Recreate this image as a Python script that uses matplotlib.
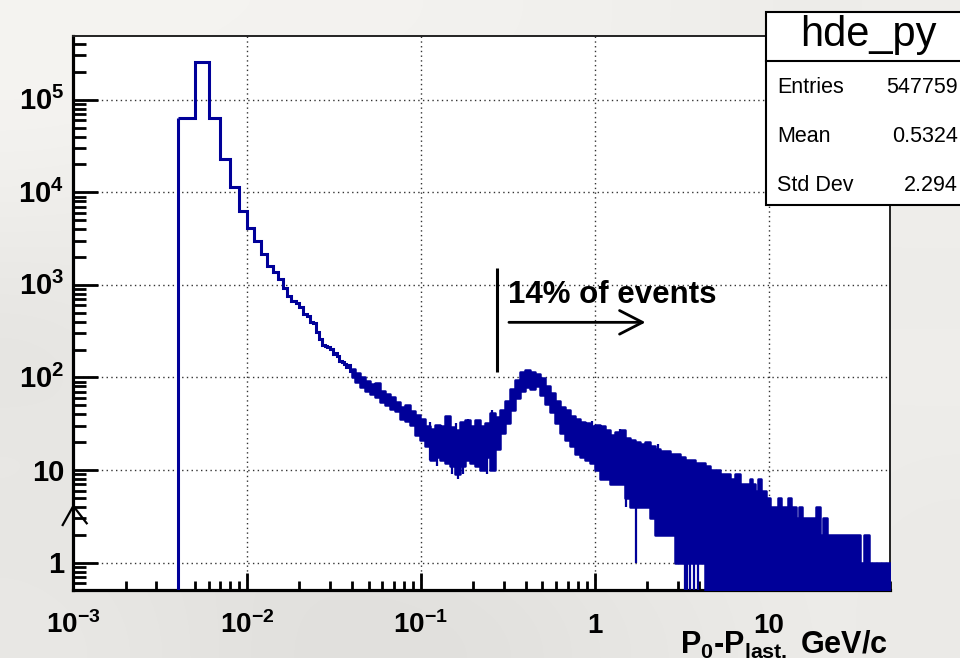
import numpy as np
import matplotlib
matplotlib.use("Agg")
import matplotlib.pyplot as plt
import matplotlib.transforms as mtransforms
from matplotlib.lines import Line2D
from matplotlib.patches import Rectangle
from matplotlib.ticker import LogLocator, NullFormatter

plt.rcParams['font.family'] = ['Liberation Sans', 'DejaVu Sans']
plt.rcParams['mathtext.fontset'] = 'custom'
plt.rcParams['mathtext.rm'] = 'Liberation Sans:bold'
plt.rcParams['mathtext.it'] = 'Liberation Sans:bold'
plt.rcParams['mathtext.bf'] = 'Liberation Sans:bold'
plt.rcParams['mathtext.sf'] = 'Liberation Sans:bold'

HIST_COLOR = '#000099'

# ---- histogram hde_py : P0 - Plast [GeV/c], 1 MeV/c bins ----
bin_start = 0.004
bin_width = 0.001
head_counts = [64000, 253000, 64000, 23000, 11500, 6300, 4100, 3000, 2150, 1600,
               1380, 1150, 920, 750, 670, 640, 570, 480, 460, 400,
               390, 310, 260, 225, 218, 212, 205, 180, 185, 170,
               152, 148, 140, 130, 135, 118]

# beyond 40 MeV/c many bins share one screen column: min / max of the bin
# contents over each interval (0 = empty bin)
band_edges = [0.0400, 0.0417, 0.0445, 0.0476, 0.0508, 0.0543, 0.0580, 0.0620, 0.0662, 0.0708,
              0.0756, 0.0808, 0.0864, 0.0922, 0.0986, 0.105, 0.1125, 0.120, 0.1285, 0.137,
              0.1466, 0.1566, 0.167, 0.179, 0.191, 0.204, 0.218, 0.233, 0.249, 0.266,
              0.284, 0.304, 0.3245, 0.347, 0.370, 0.396, 0.423, 0.452, 0.483, 0.516,
              0.551, 0.589, 0.629, 0.672, 0.718, 0.767, 0.820, 0.876, 0.936, 1.000,
              1.068, 1.141, 1.220, 1.303, 1.392, 1.487, 1.589, 1.698, 1.815, 1.939,
              2.072, 2.213, 2.365, 2.527, 2.700, 2.884, 3.082, 3.293, 3.518, 3.758,
              4.016, 4.290, 4.585, 4.898, 5.234, 5.591, 5.975, 6.383, 6.82, 7.79,
              8.07, 8.32, 8.69, 9.09, 9.71, 10.15, 11.33, 11.84, 12.93, 13.52,
              14.32, 14.96, 15.65, 18.66, 19.67, 20.55, 21.59, 33.4, 35.2, 38.1,
              50.0]
band_max = [125, 112, 100, 92, 86, 88, 72, 66, 62, 54,
            48, 50, 43, 39, 36, 30, 28, 31, 30, 38,
            29, 27, 33, 35, 30, 35, 30, 32, 41, 37,
            44, 56, 75, 95, 116, 120, 114, 110, 98, 80,
            68, 56, 48, 44, 38, 36, 33, 32, 30, 31,
            30, 27, 24, 26, 27, 22, 21, 20, 19, 20,
            18, 17, 16, 16, 15, 15, 14, 13, 13, 12,
            12, 11, 10, 10, 9, 9, 8, 9, 7, 8,
            7, 6, 8, 6, 5, 4, 5, 4, 5, 4,
            3, 4, 3, 4, 2, 3, 2, 1, 2, 1]
band_min = [100, 90, 78, 72, 66, 62, 54, 50, 46, 43,
            36, 34, 31, 24, 21, 18, 13, 14, 13, 12,
            11, 9, 11, 13, 12, 11, 10, 14, 10, 17,
            25, 32, 45, 60, 72, 78, 76, 80, 64, 52,
            42, 32, 25, 21, 18, 15, 14, 13, 12, 10,
            8, 8, 7, 7, 7, 5, 4, 4, 4, 4,
            3, 2, 2, 2, 2, 1, 1, 1, 1, 1,
            1, 0, 0, 0, 0, 0, 0, 0, 0, 0,
            0, 0, 0, 0, 0, 0, 0, 0, 0, 0,
            0, 0, 0, 0, 0, 0, 0, 0, 0, 0]

# single-bin excursions outside the min/max envelope
spike_up_x = [0.113, 0.160, 0.186, 0.258, 0.97, 1.39, 2.30]
spike_up_val = [33, 32, 36, 44, 34, 28, 19]
spike_down_x = [0.124, 0.150, 0.163, 0.175, 0.209, 0.240, 0.255,
                1.51, 1.72, 3.30, 3.38, 3.55, 3.75, 3.95]
spike_down_val = [11, 9, 8, 9, 11, 9, 12,
                  4, 1, 0, 0, 0, 0, 0]

stats_name = 'hde_py'
stats_labels = ['Entries', 'Mean', 'Std Dev']
stats_values = ['547759', '0.5324', '2.294']

# cut marker and arrow for the tail fraction
cut_x = 0.275
cut_y = (115, 1520)
arrow_x = (0.321, 1.96)
arrow_y = 394
note_text = '14% of events'
note_pos = (0.319, 642)

x_range = (1e-3, 50)
y_range = (0.507, 4.87e5)

W, H = 960, 658
fig = plt.figure(figsize=(W / 100, H / 100), dpi=100)


def fpx(x, y):
    return x / W, 1 - y / H


# soft grey canvas around the pad
bg = fig.add_axes([0, 0, 1, 1], zorder=-10)
canvas_grey = np.array([
    [244, 244, 243, 243, 242, 241, 240, 238, 236, 238],
    [243, 242, 240, 240, 240, 240, 240, 238, 236, 237],
    [238, 236, 238, 238, 238, 238, 238, 238, 236, 238],
    [232, 234, 236, 236, 236, 236, 236, 236, 238, 236],
    [228, 232, 234, 234, 234, 234, 236, 236, 236, 238],
    [232, 230, 232, 232, 232, 234, 234, 236, 238, 236],
    [230, 228, 226, 226, 228, 230, 232, 234, 236, 234],
    [232, 230, 226, 224, 224, 226, 230, 232, 236, 234],
], dtype=float)
rgb = np.stack([canvas_grey + 1, canvas_grey, canvas_grey - 3], axis=-1) / 255.0
bg.imshow(np.clip(rgb, 0, 1), extent=[0, 1, 0, 1], aspect='auto', interpolation='bicubic')
bg.axis('off')

x0, y0 = fpx(73.3, 590)
x1, y1 = fpx(890, 36)
ax = fig.add_axes([x0, y0, x1 - x0, y1 - y0])
ax.set_facecolor('white')
ax.set_xscale('log')
ax.set_yscale('log')
ax.set_xlim(*x_range)
ax.set_ylim(*y_range)
floor = y_range[0] * 0.8

# first part of the spectrum as an ordinary step histogram
head_edges = bin_start + bin_width * np.arange(len(head_counts) + 1)
ax.stairs(head_counts, head_edges, baseline=None, color=HIST_COLOR, lw=2.2, zorder=3)
ax.vlines(bin_start, floor, head_counts[0], color=HIST_COLOR, lw=2.2, zorder=3)

# dense part as a filled envelope
be = np.array(band_edges)
bmax = np.array(band_max + band_max[-1:], dtype=float)
bmin = np.array(band_min + band_min[-1:], dtype=float)
bmin[bmin <= 0] = floor
ax.fill_between(be, bmin, bmax, step='post', facecolor=HIST_COLOR, edgecolor=HIST_COLOR,
                lw=1.8, zorder=3)

idx_up = np.searchsorted(be, spike_up_x) - 1
ax.vlines(spike_up_x, bmin[idx_up], spike_up_val, color=HIST_COLOR, lw=1.6, zorder=3)
idx_dn = np.searchsorted(be, spike_down_x) - 1
dn_val = np.array(spike_down_val, dtype=float)
dn_val[dn_val <= 0] = floor
ax.vlines(spike_down_x, dn_val, bmax[idx_dn], color=HIST_COLOR, lw=1.6, zorder=3)

# axes styling
for side in ('left', 'bottom'):
    ax.spines[side].set_linewidth(2.3)
for side in ('top', 'right'):
    ax.spines[side].set_linewidth(1.4)
    ax.spines[side].set_color('#222222')

ax.xaxis.set_major_locator(LogLocator(base=10, numticks=12))
ax.xaxis.set_minor_locator(LogLocator(base=10, subs=np.arange(2, 10), numticks=12))
ax.yaxis.set_major_locator(LogLocator(base=10, numticks=12))
ax.yaxis.set_minor_locator(LogLocator(base=10, subs=np.arange(2, 10), numticks=12))
ax.xaxis.set_minor_formatter(NullFormatter())
ax.yaxis.set_minor_formatter(NullFormatter())
ax.tick_params(axis='both', which='both', direction='in', top=False, right=False,
               labelbottom=False, labelleft=False, color='black')
ax.tick_params(axis='y', which='major', length=18, width=2.0)
ax.tick_params(axis='y', which='minor', length=9.4, width=2.0)
ax.tick_params(axis='x', which='major', length=12, width=2.0)
ax.tick_params(axis='x', which='minor', length=6.5, width=2.0)
ax.grid(which='major', linestyle=(0, (1, 2.4)), color='#333333', lw=1.0)

# tick labels
ylab_tr = ax.get_yaxis_transform() + mtransforms.ScaledTranslation(-0.09, -0.105, fig.dpi_scale_trans)
y_ticks = [1, 10, 1e2, 1e3, 1e4, 1e5]
y_tick_text = ['1', '10', '$10^{2}$', '$10^{3}$', '$10^{4}$', '$10^{5}$']
for v, t in zip(y_ticks, y_tick_text):
    ax.text(0, v, t, transform=ylab_tr, ha='right', va='baseline', fontsize=21,
            fontweight='bold', clip_on=False)

xlab_tr = ax.get_xaxis_transform() + mtransforms.ScaledTranslation(0, -0.43, fig.dpi_scale_trans)
x_ticks = [1e-3, 1e-2, 1e-1, 1, 10]
x_tick_text = ['$10^{-3}$', '$10^{-2}$', '$10^{-1}$', '1', '10']
for v, t in zip(x_ticks, x_tick_text):
    ax.text(v, 0, t, transform=xlab_tr, ha='center', va='baseline', fontsize=20,
            fontweight='bold', clip_on=False)

fig.text(*fpx(888, 653), r'P$_{0}$-P$_{last,}$ GeV/c', ha='right', va='baseline',
         fontsize=22, fontweight='bold')

# cut line, arrow and note
ax.vlines(cut_x, cut_y[0], cut_y[1], color='black', lw=2.2, zorder=4)
ax.annotate('', xy=(arrow_x[1], arrow_y), xytext=(arrow_x[0], arrow_y),
            arrowprops=dict(arrowstyle='->,head_length=1.65,head_width=0.85', lw=2.0,
                            color='black', shrinkA=0, shrinkB=0, mutation_scale=10),
            zorder=4)
ax.text(note_pos[0], note_pos[1], note_text, fontsize=22.5, fontweight='bold',
        ha='left', va='baseline', zorder=4)

# small caret on the y axis
cx, cy = zip(fpx(62.7, 525), fpx(73.3, 506), fpx(86.7, 523.3))
fig.add_artist(Line2D(cx, cy, transform=fig.transFigure, color='black', lw=1.6))

# statistics box
bx0, by0 = fpx(766, 205)
bx1, by1 = fpx(975, 12)
fig.add_artist(Rectangle((bx0, by0), bx1 - bx0, by1 - by0, transform=fig.transFigure,
                         facecolor='white', edgecolor='black', lw=1.5, zorder=5))
dx0, dy = fpx(766, 61)
fig.add_artist(Line2D([dx0, bx1], [dy, dy], transform=fig.transFigure,
                      color='black', lw=1.5, zorder=6))
fig.text(*fpx(868, 46), stats_name, ha='center', va='baseline', fontsize=30,
         zorder=7)
for lab, val, yb in zip(stats_labels, stats_values, [93, 142, 191]):
    fig.text(*fpx(777, yb), lab, ha='left', va='baseline', fontsize=15.5, zorder=7)
    fig.text(*fpx(958, yb), val, ha='right', va='baseline', fontsize=15.5, zorder=7)

fig.savefig('out.png', dpi=100)
